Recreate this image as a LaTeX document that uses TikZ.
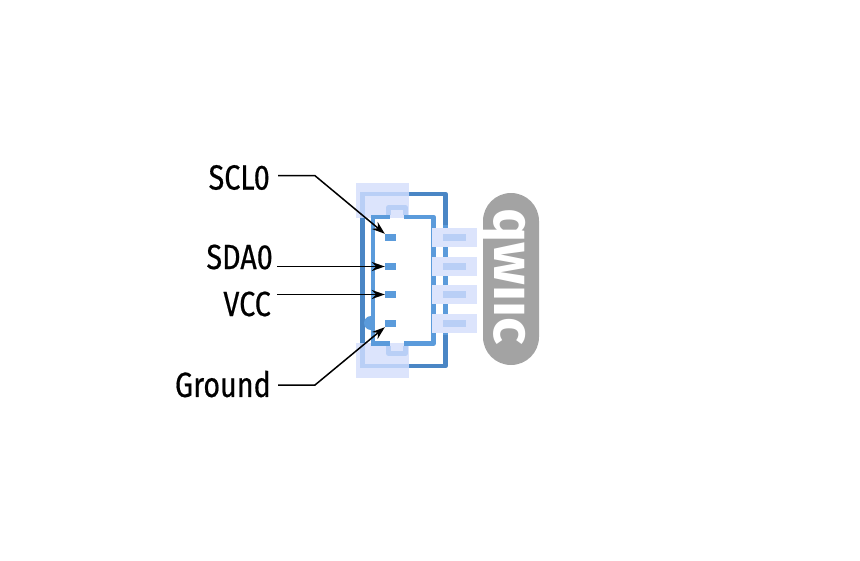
\documentclass[tikz,border=0pt]{standalone}
\usepackage{fontspec}
\setmainfont[FakeStretch=0.82,FakeBold=0.5]{Fira Sans}
\newfontfamily\logofont[BoldFont={Fira Sans Bold}]{Fira Sans}
\usetikzlibrary{arrows.meta}
\definecolor{pinblue}{HTML}{5B9BDB}
\definecolor{shellblue}{HTML}{4A86C5}
\definecolor{padblue}{HTML}{DCE4FC}
\definecolor{paleblue}{HTML}{B9CFF6}
\definecolor{logogray}{HTML}{A3A3A3}
\tikzset{
  pinbox/.style={fill=pinblue, minimum width=11pt, minimum height=7pt, inner sep=0pt},
  padbox/.style={fill=padblue, minimum width=45pt, minimum height=19pt, inner sep=0pt},
  capbox/.style={fill=padblue, minimum width=53pt, minimum height=35pt, inner sep=0pt},
  lab/.style={anchor=east, inner sep=0pt, font=\fontsize{35}{35}\selectfont},
  conn/.style={-{Stealth[length=13pt,width=9pt]}, line width=1.5pt}
}
\begin{document}
\begin{tikzpicture}[x=1pt, y=-1pt]
\useasboundingbox (0,0) rectangle (860,560);
% shell
\draw[shellblue, line width=4.5pt, line join=round] (362.5,194) -- (445.5,194) -- (445.5,366) -- (362.5,366) -- cycle;
\draw[pinblue, line width=4.5pt] (445.5,225) -- (445.5,335);
\fill[pinblue] (371,330) arc (90:270:7) -- cycle;
% inner wall
\fill[white] (375,215) rectangle (436,346);
\draw[pinblue, line width=4.5pt, line join=round] (373,217) -- (433.5,217) -- (433.5,343.5) -- (373,343.5) -- cycle;
% latches
\node[capbox] (topcap) at (382.5,200.5) {};
\node[capbox] (botcap) at (382.5,360.5) {};
\fill[pinblue] (371,215) rectangle (390,218);
\fill[pinblue] (403.5,215) rectangle (409,218);
\fill[pinblue] (371,343) rectangle (390,346);
\fill[pinblue] (403.5,343) rectangle (409,346);
\fill[white] (390,218) rectangle (403.5,219.5);
\fill[white] (390,341) rectangle (403.5,343);
\draw[paleblue, line width=4.5pt] (362.5,218) -- (362.5,194) -- (409,194);
\draw[paleblue, line width=4.5pt] (362.5,343) -- (362.5,366) -- (409,366);
\draw[paleblue, line width=4.5pt, line join=round] (388.5,215) -- (388.5,207.5) -- (405.5,207.5) -- (405.5,215);
\draw[paleblue, line width=4.5pt, line join=round] (388.5,346) -- (388.5,353.5) -- (405.5,353.5) -- (405.5,346);
% pads
\foreach \n/\y in {a/237.5,b/266.5,c/294.5,d/323.5}{
  \node[padbox] (pad\n) at (454.5,\y) {};
  \fill[paleblue] (443,\y-3.5) rectangle (466,\y+3.5);
  \node[pinbox] (pin\n) at (390.5,\y) {};
}
% logo
\node[fill=logogray, rounded corners=28pt, minimum width=56pt, minimum height=172pt, inner sep=0pt] (logo) at (511,279) {};
\begin{scope}
\clip (480,190) rectangle (527,370);
\node[rotate=-90, text=white, inner sep=0pt, font=\logofont\bfseries\fontsize{57}{57}\selectfont] (qwiic) at (511,276.5) {qwiic};
\end{scope}
% labels
\node[lab] (scl) at (270,177.5) {SCL0};
\node[lab] (sda) at (273,257) {SDA0};
\node[lab] (vcc) at (271,304) {VCC};
\node[lab] (gnd) at (271,384) {Ground};
\coordinate (sclbend) at (315,175.7);
\coordinate (gndbend) at (315,385);
\draw[conn] ([xshift=8pt]scl.east |- sclbend) -- (sclbend) -- (pina.north west);
\draw[conn] ([xshift=4pt]sda.east |- pinb.west) -- (pinb.west);
\draw[conn] ([xshift=6pt]vcc.east |- pinc.west) -- (pinc.west);
\draw[conn] ([xshift=7pt]gnd.east |- gndbend) -- (gndbend) -- (pind.south west);
\end{tikzpicture}
\end{document}
